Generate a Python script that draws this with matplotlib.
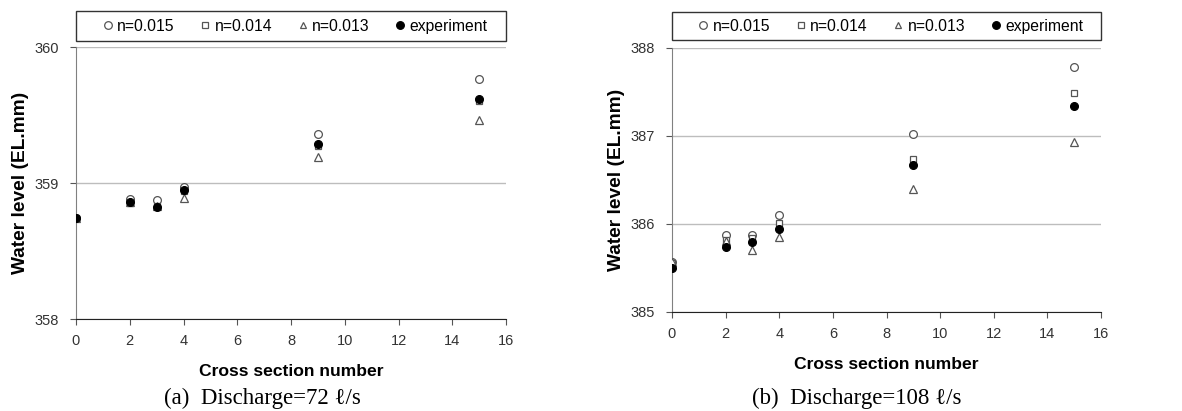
import matplotlib
matplotlib.use("Agg")
import matplotlib.pyplot as plt
from matplotlib.lines import Line2D
from matplotlib.patches import Rectangle

# cross sections
sections = [0, 2, 3, 4, 9, 15]

# (a) discharge 72 l/s
a_n015 = [358.74, 358.88, 358.875, 358.97, 359.36, 359.765]
a_n014 = [358.74, 358.85, 358.83, 358.94, 359.27, 359.60]
a_n013 = [358.74, 358.86, 358.83, 358.89, 359.19, 359.46]
a_exp = [358.74, 358.86, 358.82, 358.945, 359.29, 359.62]

# (b) discharge 108 l/s
b_n015 = [385.57, 385.87, 385.88, 386.10, 387.02, 387.78]
b_n014 = [385.56, 385.82, 385.84, 386.01, 386.74, 387.49]
b_n013 = [385.57, 385.81, 385.71, 385.85, 386.40, 386.93]
b_exp = [385.50, 385.74, 385.80, 385.94, 386.67, 387.34]

labels = ["n=0.015", "n=0.014", "n=0.013", "experiment"]
captions = ["(a)  Discharge=72 \u2113/s", "(b)  Discharge=108 \u2113/s"]

plt.rcParams['font.family'] = ['Liberation Sans', 'DejaVu Sans']

fig = plt.figure(figsize=(11.82, 4.11), dpi=100)
W, H = 1182, 411


def px_axes(x0, x1, ytop, ybot):
    return fig.add_axes([x0 / W, 1 - ybot / H, (x1 - x0) / W, (ybot - ytop) / H])


def draw_panel(ax, series, ylim, yticks, box):
    styles = [
        dict(marker='o', mfc='white', mec='#555555', ms=5.6),
        dict(marker='s', mfc='white', mec='#555555', ms=5),
        dict(marker='^', mfc='white', mec='#555555', ms=5.2),
        dict(marker='o', mfc='black', mec='black', ms=5.6),
    ]
    for vals, st in zip(series, styles):
        ax.plot(sections, vals, ls='none', mew=0.9, zorder=3, **st)
    ax.set_xlim(0, 16)
    ax.set_ylim(*ylim)
    ax.set_xticks(range(0, 17, 2))
    ax.set_yticks(yticks)
    ax.grid(axis='y', color='#bdbdbd', lw=1)
    ax.set_axisbelow(True)
    for s in ('top', 'right'):
        ax.spines[s].set_visible(False)
    ax.spines['left'].set_color('#808080')
    ax.spines['bottom'].set_color('#222222')
    ax.tick_params(axis='both', direction='out', length=4, labelsize=10.5,
                   labelcolor='#333333', color='#555555')
    ax.tick_params(axis='y', pad=8)
    ax.tick_params(axis='x', pad=7)
    ax.set_ylabel("Water level (EL.mm)", fontsize=13.8, fontweight='bold', labelpad=4)
    ax.set_xlabel("Cross section number", fontsize=12.6, fontweight='bold', labelpad=11)

    handles = [Line2D([], [], ls='none', **st, mew=0.9) for st in styles]
    handles[0].set_markersize(5.5)
    handles[1].set_markersize(5)
    handles[2].set_markersize(4.5)
    handles[3].set_markersize(5.5)
    ax.legend(handles, labels, loc='center', bbox_to_anchor=(0.51, (box[0] + box[1]) / 2),
              ncol=4, fontsize=11.3, frameon=False,
              handlelength=0.6, handletextpad=0.3, borderaxespad=0,
              columnspacing=1.65)
    ax.add_patch(Rectangle((0, box[0]), 1, box[1] - box[0], transform=ax.transAxes,
                           fill=False, ec='#333333', lw=1, clip_on=False))


ax1 = px_axes(76, 506, 47, 319)
draw_panel(ax1, [a_n015, a_n014, a_n013, a_exp], (358, 360), [358, 359, 360],
           (1.022, 1.132))

ax2 = px_axes(672, 1101, 48, 312)
draw_panel(ax2, [b_n015, b_n014, b_n013, b_exp], (385, 388), [385, 386, 387, 388],
           (1.03, 1.136))

fig.text(262 / W, 1 - 398 / H, captions[0], ha='center', va='center', fontsize=16.5,
         family=['Liberation Serif', 'DejaVu Serif'])
fig.text(857 / W, 1 - 398 / H, captions[1], ha='center', va='center', fontsize=16.5,
         family=['Liberation Serif', 'DejaVu Serif'])

fig.savefig("out.png", dpi=100)
